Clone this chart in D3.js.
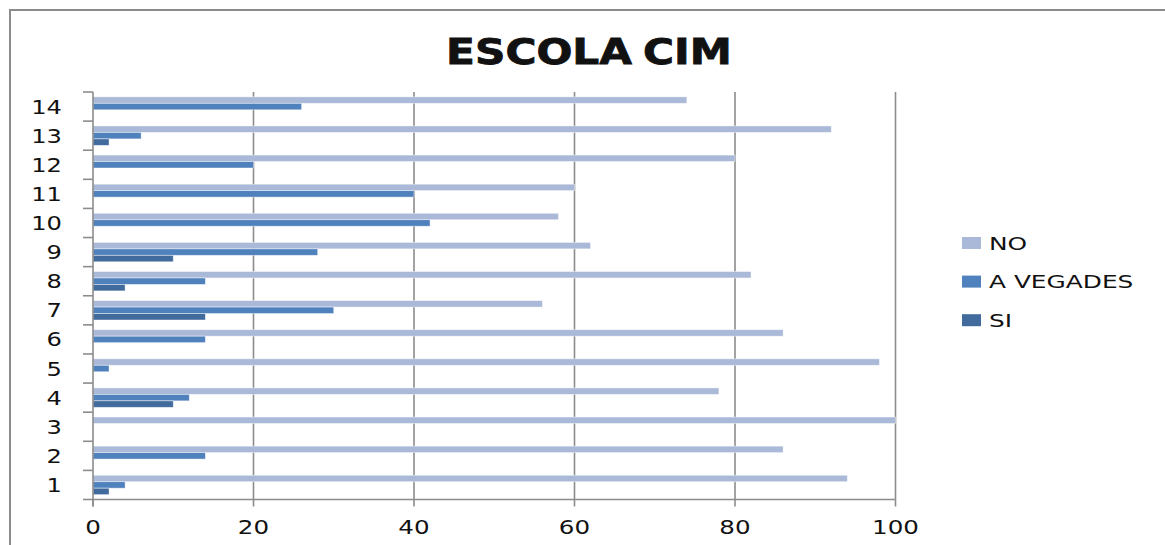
<!DOCTYPE html>
<html>
<head>
<meta charset="utf-8">
<script src="https://cdn.jsdelivr.net/npm/d3@7"></script>
<style>
  html, body { margin: 0; padding: 0; background: #fff; }
  svg { display: block; }
  text { font-family: "DejaVu Sans", sans-serif; fill: #111; }
</style>
</head>
<body>
<svg id="chart" width="1165" height="545"></svg>
<script>
// Answers per question (percent) for the school survey
const categories = ["1","2","3","4","5","6","7","8","9","10","11","12","13","14"];
const seriesNames = ["NO", "A VEGADES", "SI"];
const noValues       = [94, 86, 100, 78, 98, 86, 56, 82, 62, 58, 60, 80, 92, 74];
const aVegadesValues = [4, 14, 0, 12, 2, 14, 30, 14, 28, 42, 40, 20, 6, 26];
const siValues       = [2, 0, 0, 10, 0, 0, 14, 4, 10, 0, 0, 0, 2, 0];
const xTicks = [0, 20, 40, 60, 80, 100];
const title = "ESCOLA CIM";

const colors = { "NO": "#aab9d8", "A VEGADES": "#4f81bd", "SI": "#416a9d" };
const valuesBySeries = { "NO": noValues, "A VEGADES": aVegadesValues, "SI": siValues };

const svg = d3.select("#chart");
const plot = { left: 93, right: 895.5, top: 92, bottom: 499.5 };
const gray = "#8c8c8c";

// outer chart frame
svg.append("rect")
  .attr("x", 10).attr("y", 10).attr("width", 1170).attr("height", 560)
  .attr("fill", "none").attr("stroke", gray).attr("stroke-width", 2);

const x = d3.scaleLinear().domain([0, 100]).range([plot.left, plot.right]);
// category 1 at the bottom
const y = d3.scaleBand().domain(categories.slice().reverse())
  .range([plot.top, plot.bottom]).paddingInner(0).paddingOuter(0);
const ySeries = d3.scaleBand().domain(seriesNames)
  .range([0, y.bandwidth()]).paddingInner(0).paddingOuter(0.75);

// vertical gridlines
svg.append("g").selectAll("line")
  .data(xTicks.filter(d => d > 0))
  .join("line")
  .attr("x1", d => x(d)).attr("x2", d => x(d))
  .attr("y1", plot.top).attr("y2", plot.bottom)
  .attr("stroke", gray).attr("stroke-width", 1.6);

// bars
const rows = [];
seriesNames.forEach(s => categories.forEach((c, i) => rows.push({ s, c, v: valuesBySeries[s][i] })));
svg.append("g").selectAll("rect")
  .data(rows.filter(d => d.v > 0))
  .join("rect")
  .attr("x", x(0))
  .attr("y", d => y(d.c) + ySeries(d.s))
  .attr("width", d => x(d.v) - x(0))
  .attr("height", ySeries.bandwidth())
  .attr("fill", d => colors[d.s])
  .attr("stroke", "rgba(255,255,255,0.55)")
  .attr("stroke-width", 0.8);

// helper: horizontally stretched text
function stretchedText(g, tx, ty, str, size, sx, anchor, weight) {
  return g.append("text")
    .attr("transform", `translate(${tx},${ty}) scale(${sx},1)`)
    .attr("text-anchor", anchor)
    .attr("font-size", size)
    .attr("font-weight", weight || "normal")
    .text(str);
}

// x axis
const xAxisG = svg.append("g");
xAxisG.append("line")
  .attr("x1", plot.left).attr("x2", plot.right)
  .attr("y1", plot.bottom).attr("y2", plot.bottom)
  .attr("stroke", gray).attr("stroke-width", 1.6);
xAxisG.selectAll("line.tick")
  .data(xTicks).join("line").attr("class", "tick")
  .attr("x1", d => x(d)).attr("x2", d => x(d))
  .attr("y1", plot.bottom).attr("y2", plot.bottom + 7)
  .attr("stroke", gray).attr("stroke-width", 1.6);
xTicks.forEach(t => stretchedText(xAxisG, x(t), 534, String(t), 19.5, 1.26, "middle"));

// y axis
const yAxisG = svg.append("g");
yAxisG.append("line")
  .attr("x1", plot.left).attr("x2", plot.left)
  .attr("y1", plot.top).attr("y2", plot.bottom + 7)
  .attr("stroke", gray).attr("stroke-width", 1.6);
const boundaries = categories.map(c => y(c)).concat([plot.bottom]);
yAxisG.selectAll("line.tick")
  .data(boundaries).join("line").attr("class", "tick")
  .attr("x1", plot.left - 10).attr("x2", plot.left)
  .attr("y1", d => d).attr("y2", d => d)
  .attr("stroke", gray).attr("stroke-width", 1.6);
categories.forEach(c => stretchedText(yAxisG, 62, y(c) + y.bandwidth() / 2 + 7, c, 19.5, 1.24, "end"));

// title
const t = svg.append("text")
  .attr("font-family", "Lato, 'Open Sans', sans-serif")
  .attr("font-weight", "900")
  .attr("font-size", 35)
  .attr("text-anchor", "middle")
  .attr("word-spacing", -3)
  .attr("stroke", "#111").attr("stroke-width", 0.8)
  .text(title);
const tw = t.node().getComputedTextLength();
t.attr("transform", `translate(589,64) scale(${286 / tw},1)`);

// legend
const legend = svg.append("g");
seriesNames.forEach((s, i) => {
  const ly = 237 + i * 38.6;
  legend.append("rect")
    .attr("x", 962).attr("y", ly).attr("width", 19).attr("height", 12)
    .attr("fill", colors[s]);
  stretchedText(legend, 989, ly + 12.5, s, 18, 1.38, "start");
});
</script>
</body>
</html>
